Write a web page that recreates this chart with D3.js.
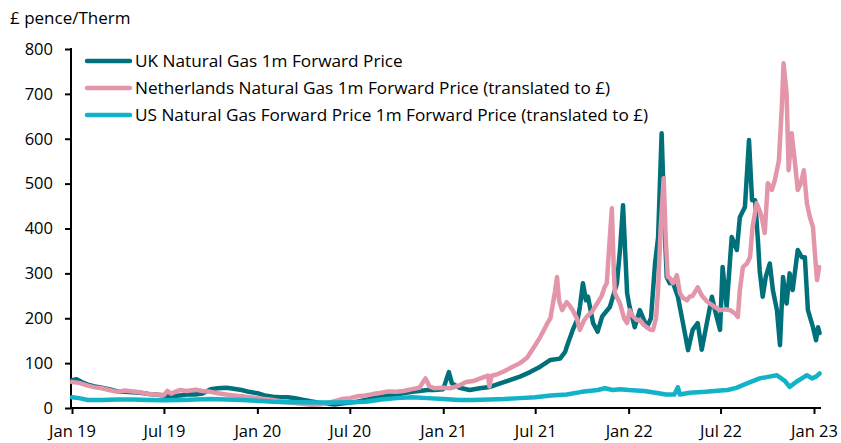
<!DOCTYPE html>
<html>
<head>
<meta charset="utf-8">
<script src="https://cdn.jsdelivr.net/npm/d3@7"></script>
<style>
  body { margin: 0; background: #fff; }
  svg { display: block; font-family: "Open Sans", sans-serif; }
</style>
</head>
<body>
<svg id="chart" width="841" height="443"></svg>
<script>
// series: [date, pence/therm]
const ukPrice = [
  ['2019-01-01', 62], ['2019-01-10', 64], ['2019-01-20', 58], ['2019-02-01', 52], ['2019-02-15', 48],
  ['2019-03-01', 45], ['2019-03-15', 42], ['2019-04-01', 37], ['2019-04-15', 36], ['2019-05-01', 35],
  ['2019-05-15', 34], ['2019-06-01', 31], ['2019-06-15', 30], ['2019-07-01', 28], ['2019-07-15', 26],
  ['2019-08-01', 28], ['2019-08-15', 30], ['2019-09-01', 30], ['2019-09-15', 32], ['2019-10-01', 42],
  ['2019-10-15', 44], ['2019-11-01', 45], ['2019-11-15', 43], ['2019-12-01', 40], ['2019-12-15', 36],
  ['2020-01-01', 33], ['2020-01-15', 28], ['2020-02-01', 25], ['2020-02-15', 24], ['2020-03-01', 24],
  ['2020-03-15', 22], ['2020-04-01', 18], ['2020-04-15', 15], ['2020-05-01', 12], ['2020-05-15', 10],
  ['2020-06-01', 8], ['2020-06-15', 10], ['2020-07-01', 12], ['2020-07-15', 14], ['2020-08-01', 18],
  ['2020-08-15', 22], ['2020-09-01', 25], ['2020-09-15', 28], ['2020-10-01', 30], ['2020-10-15', 33],
  ['2020-11-01', 36], ['2020-11-15', 38], ['2020-12-01', 40], ['2020-12-15', 40], ['2021-01-01', 42],
  ['2021-01-12', 80], ['2021-01-18', 55], ['2021-02-02', 45], ['2021-02-22', 40], ['2021-03-14', 44],
  ['2021-04-03', 47], ['2021-04-23', 55], ['2021-05-12', 62], ['2021-06-01', 70], ['2021-06-21', 80],
  ['2021-07-11', 92], ['2021-07-31', 107], ['2021-08-19', 110], ['2021-08-29', 125], ['2021-09-01', 136],
  ['2021-09-13', 174], ['2021-09-23', 200], ['2021-09-27', 225], ['2021-10-03', 278], ['2021-10-09', 240],
  ['2021-10-13', 248], ['2021-10-23', 189], ['2021-11-01', 170], ['2021-11-10', 204], ['2021-11-25', 225],
  ['2021-12-09', 278], ['2021-12-15', 352], ['2021-12-21', 452], ['2021-12-29', 256], ['2022-01-03', 225],
  ['2022-01-13', 180], ['2022-01-23', 218], ['2022-02-06', 180], ['2022-02-14', 200], ['2022-02-22', 322],
  ['2022-02-28', 380], ['2022-03-07', 612], ['2022-03-13', 400], ['2022-03-17', 292], ['2022-03-23', 278],
  ['2022-03-29', 280], ['2022-04-08', 248], ['2022-04-18', 189], ['2022-04-28', 129], ['2022-05-07', 174],
  ['2022-05-17', 189], ['2022-05-25', 130], ['2022-06-04', 189], ['2022-06-14', 248], ['2022-06-20', 218],
  ['2022-06-30', 174], ['2022-07-05', 314], ['2022-07-13', 225], ['2022-07-23', 381], ['2022-08-02', 352],
  ['2022-08-08', 425], ['2022-08-18', 448], ['2022-08-26', 597], ['2022-09-01', 463], ['2022-09-07', 463],
  ['2022-09-13', 367], ['2022-09-16', 307], ['2022-09-22', 248], ['2022-09-28', 292], ['2022-10-06', 322],
  ['2022-10-12', 263], ['2022-10-20', 218], ['2022-10-26', 140], ['2022-11-01', 292], ['2022-11-08', 233],
  ['2022-11-14', 300], ['2022-11-20', 263], ['2022-11-30', 352], ['2022-12-08', 336], ['2022-12-14', 336],
  ['2022-12-20', 218], ['2022-12-30', 180], ['2023-01-05', 151], ['2023-01-09', 180], ['2023-01-12', 167]
]

const nlPrice = [
  ['2019-01-01', 58], ['2019-01-15', 56], ['2019-02-01', 50], ['2019-02-15', 46], ['2019-03-01', 44],
  ['2019-03-15', 40], ['2019-04-01', 36], ['2019-04-15', 39], ['2019-05-01', 37], ['2019-05-15', 35],
  ['2019-06-01', 31], ['2019-06-15', 30], ['2019-07-01', 29], ['2019-07-08', 38], ['2019-07-15', 32],
  ['2019-08-01', 40], ['2019-08-15', 38], ['2019-09-01', 41], ['2019-09-15', 38], ['2019-10-01', 36],
  ['2019-10-15', 33], ['2019-11-01', 30], ['2019-11-15', 28], ['2019-12-01', 26], ['2019-12-15', 24],
  ['2020-01-01', 22], ['2020-01-15', 20], ['2020-02-01', 18], ['2020-02-15', 15], ['2020-03-01', 13],
  ['2020-03-15', 11], ['2020-04-01', 9], ['2020-04-15', 7], ['2020-05-01', 8], ['2020-05-15', 10],
  ['2020-06-01', 15], ['2020-06-15', 20], ['2020-07-01', 22], ['2020-07-15', 26], ['2020-08-01', 28],
  ['2020-08-15', 31], ['2020-09-01', 34], ['2020-09-15', 37], ['2020-10-01', 36], ['2020-10-15', 38],
  ['2020-11-01', 42], ['2020-11-15', 45], ['2020-11-27', 66], ['2020-12-05', 48], ['2020-12-15', 44],
  ['2021-01-01', 45], ['2021-01-15', 44], ['2021-02-01', 50], ['2021-02-15', 58], ['2021-03-01', 60],
  ['2021-03-15', 66], ['2021-03-30', 72], ['2021-04-02', 48], ['2021-04-06', 72], ['2021-04-15', 74],
  ['2021-05-01', 82], ['2021-05-15', 90], ['2021-06-01', 100], ['2021-06-15', 112], ['2021-07-01', 140],
  ['2021-07-11', 158], ['2021-07-25', 189], ['2021-07-31', 200], ['2021-08-09', 260], ['2021-08-13', 292],
  ['2021-08-17', 240], ['2021-08-23', 218], ['2021-08-29', 230], ['2021-09-01', 236], ['2021-09-07', 228],
  ['2021-09-13', 218], ['2021-09-21', 200], ['2021-09-27', 174], ['2021-10-05', 195], ['2021-10-11', 204],
  ['2021-10-21', 215], ['2021-10-31', 233], ['2021-11-09', 250], ['2021-11-15', 270], ['2021-11-19', 278],
  ['2021-11-25', 380], ['2021-11-29', 445], ['2021-12-03', 300], ['2021-12-05', 256], ['2021-12-15', 233],
  ['2021-12-23', 200], ['2021-12-29', 189], ['2022-01-03', 218], ['2022-01-09', 205], ['2022-01-17', 196],
  ['2022-01-23', 196], ['2022-01-31', 185], ['2022-02-06', 180], ['2022-02-12', 175], ['2022-02-18', 174],
  ['2022-02-24', 200], ['2022-02-28', 263], ['2022-03-05', 400], ['2022-03-11', 512], ['2022-03-15', 380],
  ['2022-03-19', 292], ['2022-03-23', 290], ['2022-03-29', 278], ['2022-04-06', 296], ['2022-04-12', 256],
  ['2022-04-18', 245], ['2022-04-26', 240], ['2022-05-01', 248], ['2022-05-07', 250], ['2022-05-17', 269],
  ['2022-05-23', 255], ['2022-05-27', 248], ['2022-06-04', 238], ['2022-06-10', 233], ['2022-06-20', 225],
  ['2022-06-30', 218], ['2022-07-10', 220], ['2022-07-20', 218], ['2022-07-30', 210], ['2022-08-04', 203],
  ['2022-08-08', 263], ['2022-08-14', 314], ['2022-08-22', 322], ['2022-08-28', 336], ['2022-09-02', 403],
  ['2022-09-10', 456], ['2022-09-16', 440], ['2022-09-20', 425], ['2022-09-26', 390], ['2022-10-02', 501],
  ['2022-10-10', 486], ['2022-10-16', 508], ['2022-10-24', 552], ['2022-10-30', 679], ['2022-11-02', 768],
  ['2022-11-08', 702], ['2022-11-12', 530], ['2022-11-18', 612], ['2022-11-24', 552], ['2022-11-30', 486],
  ['2022-12-06', 500], ['2022-12-12', 530], ['2022-12-18', 456], ['2022-12-24', 425], ['2022-12-30', 403],
  ['2023-01-03', 340], ['2023-01-07', 285], ['2023-01-11', 314]
]

const usPrice = [
  ['2019-01-01', 24], ['2019-01-15', 22], ['2019-02-01', 18], ['2019-03-01', 18], ['2019-04-01', 19],
  ['2019-05-01', 19], ['2019-06-01', 18], ['2019-07-01', 17], ['2019-08-01', 18], ['2019-09-01', 19],
  ['2019-10-01', 20], ['2019-11-01', 19], ['2019-12-01', 18], ['2020-01-01', 16], ['2020-02-01', 14],
  ['2020-03-01', 13], ['2020-04-01', 13], ['2020-05-01', 12], ['2020-06-01', 12], ['2020-07-01', 13],
  ['2020-08-01', 14], ['2020-09-01', 19], ['2020-10-01', 22], ['2020-11-01', 24], ['2020-12-01', 22],
  ['2021-01-01', 20], ['2021-02-01', 18], ['2021-03-01', 18], ['2021-04-01', 19], ['2021-05-01', 20],
  ['2021-06-01', 22], ['2021-07-01', 24], ['2021-08-01', 28], ['2021-09-01', 30], ['2021-10-01', 36],
  ['2021-11-01', 40], ['2021-11-15', 44], ['2021-12-01', 40], ['2021-12-15', 42], ['2022-01-01', 40],
  ['2022-02-01', 38], ['2022-03-01', 33], ['2022-03-15', 30], ['2022-04-01', 30], ['2022-04-08', 46],
  ['2022-04-12', 30], ['2022-05-01', 34], ['2022-06-01', 36], ['2022-07-01', 39], ['2022-07-15', 40],
  ['2022-08-01', 45], ['2022-08-22', 55], ['2022-09-16', 66], ['2022-10-05', 70], ['2022-10-20', 73],
  ['2022-11-05', 60], ['2022-11-14', 47], ['2022-11-28', 59], ['2022-12-08', 66], ['2022-12-18', 73],
  ['2022-12-28', 66], ['2023-01-05', 70], ['2023-01-12', 77]
]

const seriesNames = [
  'UK Natural Gas 1m Forward Price',
  'Netherlands Natural Gas 1m Forward Price (translated to £)',
  'US Natural Gas Forward Price 1m Forward Price (translated to £)'
]
const seriesColors = ['#00717B', '#E396A9', '#12B3C8']
const yTicks = [0, 100, 200, 300, 400, 500, 600, 700, 800]
const xTicks = ['2019-01-01', '2019-07-01', '2020-01-01', '2020-07-01', '2021-01-01',
                '2021-07-01', '2022-01-01', '2022-07-01', '2023-01-01']

const parse = d3.timeParse('%Y-%m-%d')
const svg = d3.select('#chart')

let x = d3.scaleTime()
  .domain([parse('2019-01-01'), parse('2023-01-01')])
  .range([72, 814])
let y = d3.scaleLinear()
  .domain([0, 800])
  .range([408, 49])

// axes
let yAxis = svg.append('g')
  .attr('transform', 'translate(71,0)')
  .call(d3.axisLeft(y).tickValues(yTicks).tickSize(6).tickPadding(12).tickSizeOuter(0))
yAxis.select('.domain').remove()
yAxis.append('line').attr('x1', 0).attr('x2', 0).attr('y1', y(800) - 1).attr('y2', y(0) + 1)
  .attr('stroke', '#000').attr('stroke-width', 2)

let xAxis = svg.append('g')
  .attr('transform', 'translate(0,408)')
  .call(d3.axisBottom(x).tickValues(xTicks.map(parse)).tickFormat(d3.timeFormat('%b %y'))
          .tickSize(6).tickPadding(11).tickSizeOuter(0))
xAxis.select('.domain').remove()
xAxis.append('line').attr('x1', 70).attr('x2', 821).attr('y1', 0).attr('y2', 0)
  .attr('stroke', '#000').attr('stroke-width', 2)

svg.selectAll('.tick line').attr('stroke', '#000').attr('stroke-width', 2)
svg.selectAll('.tick text').attr('fill', '#000').attr('font-size', 16.5)
  .attr('font-family', '"Open Sans", sans-serif')

// lines, drawn in legend order so later series sit on top
let line = d3.line()
  .x((d) => x(parse(d[0])))
  .y((d) => y(d[1]))

;[ukPrice, nlPrice, usPrice].forEach((data, i) => {
  svg.append('path')
    .datum(data)
    .attr('fill', 'none')
    .attr('stroke', seriesColors[i])
    .attr('stroke-width', 4.5)
    .attr('stroke-linejoin', 'round')
    .attr('stroke-linecap', 'round')
    .attr('d', line)
})

// legend
let legend = svg.append('g').attr('font-size', 17.2)
seriesNames.forEach((name, i) => {
  let ly = 61 + i * 27
  legend.append('line').attr('x1', 87).attr('x2', 130).attr('y1', ly).attr('y2', ly)
    .attr('stroke', seriesColors[i]).attr('stroke-width', 4.5).attr('stroke-linecap', 'round')
  legend.append('text').attr('x', 135).attr('y', ly).attr('dy', '0.35em').text(name)
})

// unit label
svg.append('text').attr('x', 10).attr('y', 24).attr('font-size', 17).text('£ pence/Therm')
</script>
</body>
</html>
